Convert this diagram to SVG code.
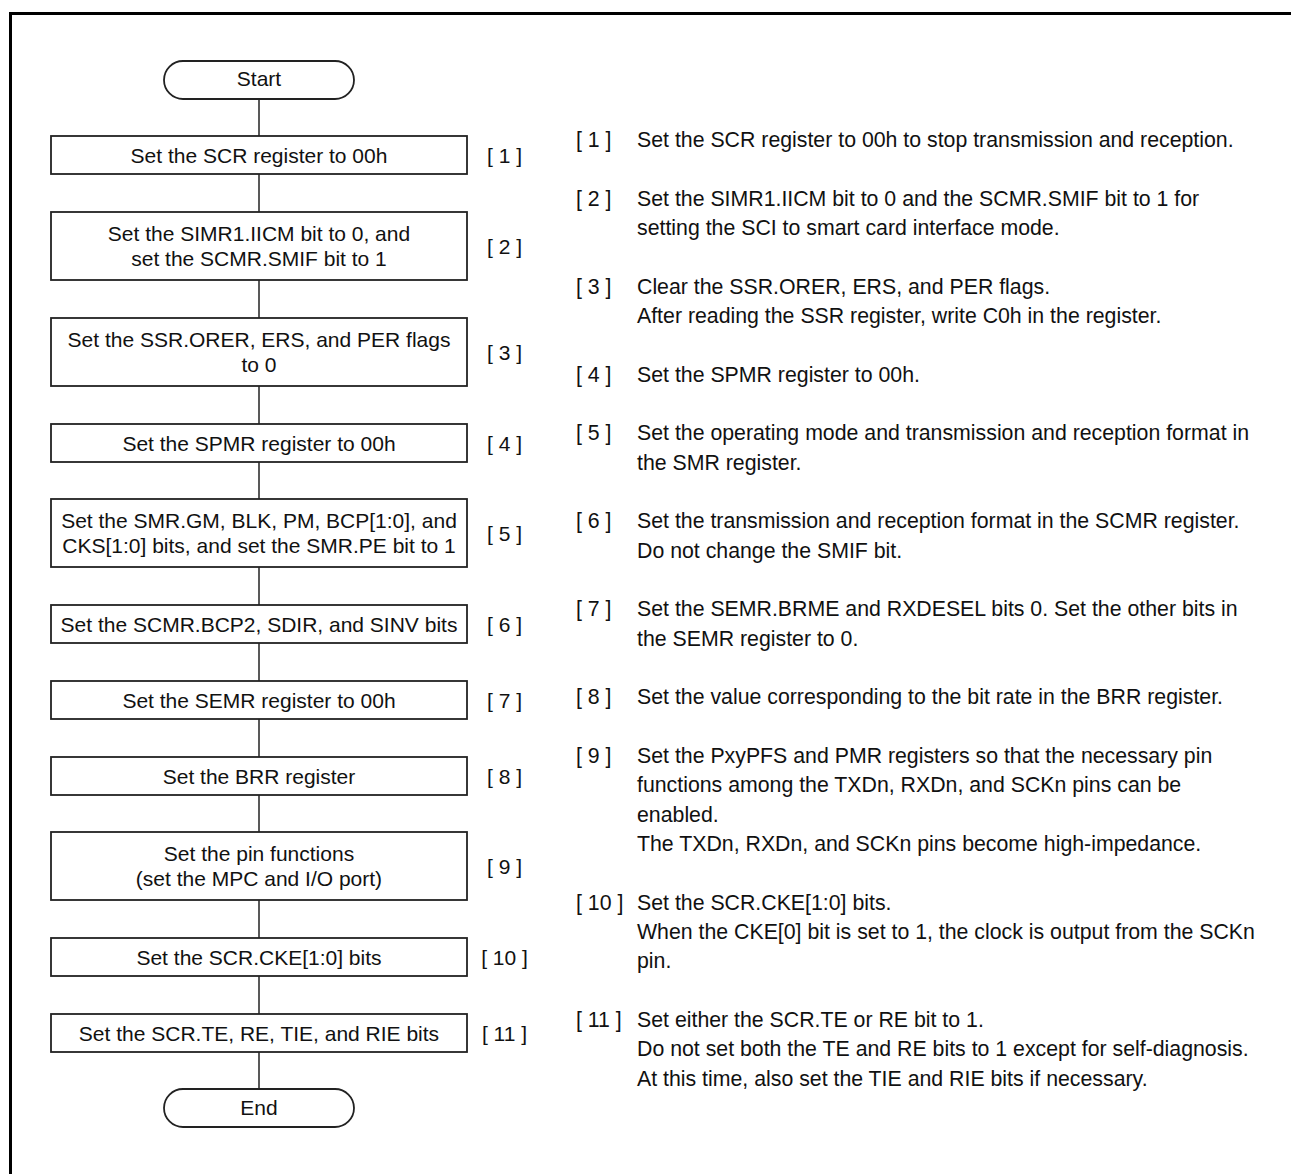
<svg xmlns="http://www.w3.org/2000/svg" width="1291" height="1174" viewBox="0 0 1291 1174">
<style>
text{font-family:"Liberation Sans",Arial,sans-serif;font-size:21px;fill:#111}
#notes text{font-size:21.3px}
.c{text-anchor:middle}
.box{fill:#fff;stroke:#222;stroke-width:1.8}
.con{stroke:#222;stroke-width:1.5;fill:none}
</style>
<rect width="1291" height="1174" fill="#fff"/>
<path d="M10.5 1174 V13.5 H1291" fill="none" stroke="#000" stroke-width="3"/>
<g id="connectors">
<line class="con" x1="259" y1="99" x2="259" y2="1089"/>
</g>
<g id="start"><rect class="box" x="164" y="61" width="190" height="38" rx="19"/><text class="c" x="259" y="86">Start</text></g>
<g id="step1"><rect class="box" x="51" y="136" width="416" height="38"/><text class="c" x="259" y="162.5">Set the SCR register to 00h</text><text class="c" x="504.5" y="162.5">[ 1 ]</text></g>
<g id="step2"><rect class="box" x="51" y="212" width="416" height="68"/><text class="c" x="259" y="241">Set the SIMR1.IICM bit to 0, and</text><text class="c" x="259" y="266">set the SCMR.SMIF bit to 1</text><text class="c" x="504.5" y="254">[ 2 ]</text></g>
<g id="step3"><rect class="box" x="51" y="318" width="416" height="68"/><text class="c" x="259" y="347">Set the SSR.ORER, ERS, and PER flags</text><text class="c" x="259" y="372">to 0</text><text class="c" x="504.5" y="360">[ 3 ]</text></g>
<g id="step4"><rect class="box" x="51" y="424" width="416" height="38"/><text class="c" x="259" y="450.5">Set the SPMR register to 00h</text><text class="c" x="504.5" y="450.5">[ 4 ]</text></g>
<g id="step5"><rect class="box" x="51" y="499" width="416" height="68"/><text class="c" x="259" y="528">Set the SMR.GM, BLK, PM, BCP[1:0], and</text><text class="c" x="259" y="553">CKS[1:0] bits, and set the SMR.PE bit to 1</text><text class="c" x="504.5" y="541">[ 5 ]</text></g>
<g id="step6"><rect class="box" x="51" y="605" width="416" height="38"/><text class="c" x="259" y="631.5">Set the SCMR.BCP2, SDIR, and SINV bits</text><text class="c" x="504.5" y="631.5">[ 6 ]</text></g>
<g id="step7"><rect class="box" x="51" y="681" width="416" height="38"/><text class="c" x="259" y="707.5">Set the SEMR register to 00h</text><text class="c" x="504.5" y="707.5">[ 7 ]</text></g>
<g id="step8"><rect class="box" x="51" y="757" width="416" height="38"/><text class="c" x="259" y="783.5">Set the BRR register</text><text class="c" x="504.5" y="783.5">[ 8 ]</text></g>
<g id="step9"><rect class="box" x="51" y="832" width="416" height="68"/><text class="c" x="259" y="861">Set the pin functions</text><text class="c" x="259" y="886">(set the MPC and I/O port)</text><text class="c" x="504.5" y="874">[ 9 ]</text></g>
<g id="step10"><rect class="box" x="51" y="938" width="416" height="38"/><text class="c" x="259" y="964.5">Set the SCR.CKE[1:0] bits</text><text class="c" x="504.5" y="964.5">[ 10 ]</text></g>
<g id="step11"><rect class="box" x="51" y="1014" width="416" height="38"/><text class="c" x="259" y="1040.5">Set the SCR.TE, RE, TIE, and RIE bits</text><text class="c" x="504.5" y="1040.5">[ 11 ]</text></g>
<g id="end"><rect class="box" x="164" y="1089" width="190" height="38" rx="19"/><text class="c" x="259" y="1115">End</text></g>
<g id="notes">
<text x="576" y="147">[ 1 ]</text><text x="637" y="147">Set the SCR register to 00h to stop transmission and reception.</text>
<text x="576" y="205.7">[ 2 ]</text><text x="637" y="205.7">Set the SIMR1.IICM bit to 0 and the SCMR.SMIF bit to 1 for</text><text x="637" y="235">setting the SCI to smart card interface mode.</text>
<text x="576" y="293.7">[ 3 ]</text><text x="637" y="293.7">Clear the SSR.ORER, ERS, and PER flags.</text><text x="637" y="323">After reading the SSR register, write C0h in the register.</text>
<text x="576" y="381.7">[ 4 ]</text><text x="637" y="381.7">Set the SPMR register to 00h.</text>
<text x="576" y="440.3">[ 5 ]</text><text x="637" y="440.3">Set the operating mode and transmission and reception format in</text><text x="637" y="469.7">the SMR register.</text>
<text x="576" y="528.3">[ 6 ]</text><text x="637" y="528.3">Set the transmission and reception format in the SCMR register.</text><text x="637" y="557.7">Do not change the SMIF bit.</text>
<text x="576" y="616.3">[ 7 ]</text><text x="637" y="616.3">Set the SEMR.BRME and RXDESEL bits 0. Set the other bits in</text><text x="637" y="645.7">the SEMR register to 0.</text>
<text x="576" y="704.3">[ 8 ]</text><text x="637" y="704.3">Set the value corresponding to the bit rate in the BRR register.</text>
<text x="576" y="763">[ 9 ]</text><text x="637" y="763">Set the PxyPFS and PMR registers so that the necessary pin</text><text x="637" y="792.3">functions among the TXDn, RXDn, and SCKn pins can be</text><text x="637" y="821.7">enabled.</text><text x="637" y="851">The TXDn, RXDn, and SCKn pins become high-impedance.</text>
<text x="576" y="909.7">[ 10 ]</text><text x="637" y="909.7">Set the SCR.CKE[1:0] bits.</text><text x="637" y="939">When the CKE[0] bit is set to 1, the clock is output from the SCKn</text><text x="637" y="968.3">pin.</text>
<text x="576" y="1027">[ 11 ]</text><text x="637" y="1027">Set either the SCR.TE or RE bit to 1.</text><text x="637" y="1056.3">Do not set both the TE and RE bits to 1 except for self-diagnosis.</text><text x="637" y="1085.7">At this time, also set the TIE and RIE bits if necessary.</text>
</g>
</svg>
